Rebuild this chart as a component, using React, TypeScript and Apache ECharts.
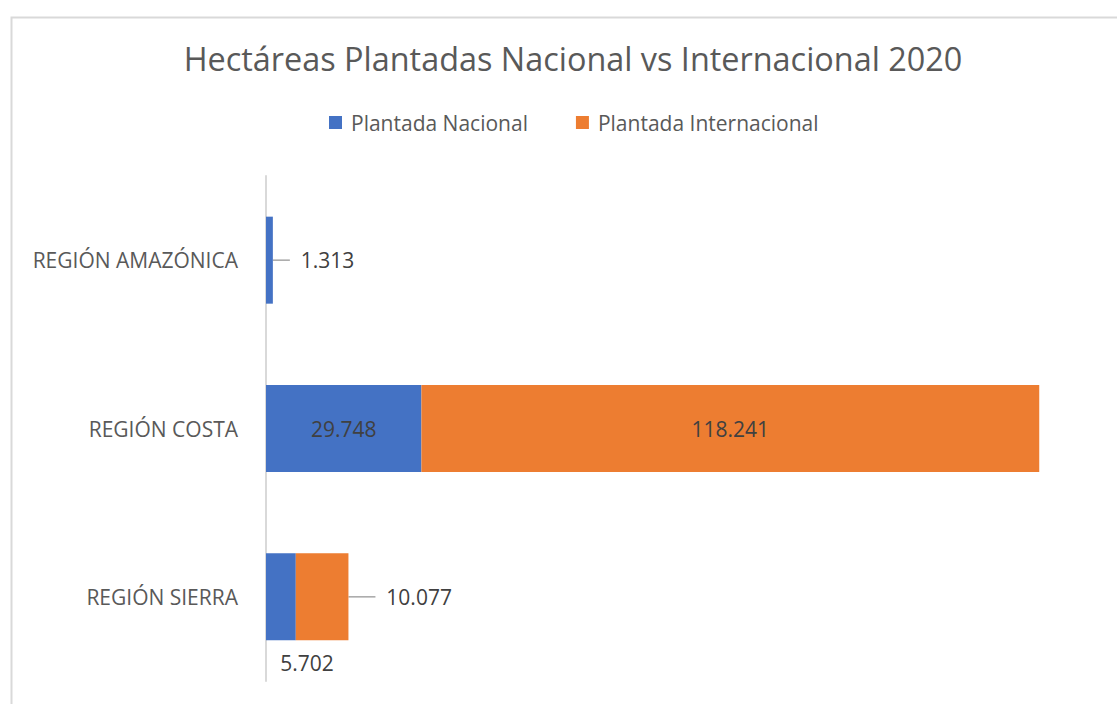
import React, { useEffect, useRef } from "react";
import * as echarts from "echarts";

const categories = ["REGIÓN SIERRA", "REGIÓN COSTA", "REGIÓN AMAZÓNICA"];
const nacional = [5702, 29748, 1313];
const internacional = [10077, 118241, 0];
const seriesNames = ["Plantada Nacional", "Plantada Internacional"];
const titleText = "Hectáreas Plantadas Nacional vs Internacional 2020";

const fmt = (v: number) => String(v).replace(/\B(?=(\d{3})+(?!\d))/g, ".");

const FONT = "'Open Sans', 'Noto Sans', sans-serif";

export default function App() {
  const ref = useRef<HTMLDivElement>(null);
  useEffect(() => {
    if (!ref.current) return;
    const chart = echarts.init(ref.current, undefined, { renderer: "svg" });
    const labelBase = {
      show: true,
      fontFamily: FONT,
      fontSize: 21,
      color: "#404040",
      formatter: (p: any) => fmt(p.value),
    };
    const spaced = (p: any) => "\u00a0\u00a0" + fmt(p.value);
    const lineStyle = { color: "#a6a6a6", width: 1.5 };
    const nacData = nacional.map((v, i) => {
      if (i === 1) return { value: v, label: { ...labelBase, position: "inside" } };
      if (i === 0) return { value: v, label: { ...labelBase, position: "bottom" } };
      return {
        value: v,
        label: { ...labelBase, position: "right", formatter: spaced },
        labelLine: { show: true, lineStyle },
      };
    });
    const intData = internacional.map((v, i) => {
      if (i === 1) return { value: v, label: { ...labelBase, position: "inside" } };
      if (i === 0)
        return {
          value: v,
          label: { ...labelBase, position: "right", formatter: spaced },
          labelLine: { show: true, lineStyle },
        };
      return { value: v, label: { show: false } };
    });
    chart.setOption({
      animation: false,
      backgroundColor: "#ffffff",
      textStyle: { fontFamily: FONT },
      title: {
        text: titleText,
        left: 568,
        textAlign: "center",
        top: 37,
        textStyle: { fontFamily: FONT, fontSize: 32.4, fontWeight: "normal", color: "#595959" },
      },
      legend: {
        data: seriesNames,
        left: 324,
        top: 107,
        icon: "rect",
        itemWidth: 13,
        itemHeight: 13,
        itemGap: 48,
        textStyle: { fontFamily: FONT, fontSize: 21, color: "#595959", padding: [0, 0, 0, 4] },
      },
      graphic: [
        {
          type: "rect",
          left: 9,
          top: 15,
          shape: { width: 1200, height: 800 },
          style: { fill: "none", stroke: "#d9d9d9", lineWidth: 2 },
          silent: true,
        },
      ],
      grid: { left: 266, top: 176, width: 836, height: 505, containLabel: false },
      xAxis: {
        type: "value",
        min: 0,
        max: 160000,
        show: false,
      },
      yAxis: {
        type: "category",
        data: categories,
        axisLine: { show: true, lineStyle: { color: "#d9d9d9", width: 2 } },
        axisTick: { show: false },
        axisLabel: { margin: 28, fontFamily: FONT, fontSize: 21, color: "#595959" },
      },
      series: [
        {
          name: seriesNames[0],
          type: "bar",
          stack: "total",
          barWidth: 87,
          itemStyle: { color: "#4472C4" },
          data: nacData,
          labelLayout: (p: any) => {
            if (p.dataIndex === 2) return { dx: 12 };
            if (p.dataIndex === 0) return { dx: 26, dy: 7 };
            return {};
          },
        },
        {
          name: seriesNames[1],
          type: "bar",
          stack: "total",
          barWidth: 87,
          itemStyle: { color: "#ED7D31" },
          data: intData,
          labelLayout: (p: any) => {
            if (p.dataIndex === 0) return { dx: 22 };
            return {};
          },
        },
      ],
    });
    return () => chart.dispose();
  }, []);
  return (
    <div
      ref={ref}
      style={{ position: "fixed", left: 0, top: 0, width: 1117, height: 704 }}
    />
  );
}
